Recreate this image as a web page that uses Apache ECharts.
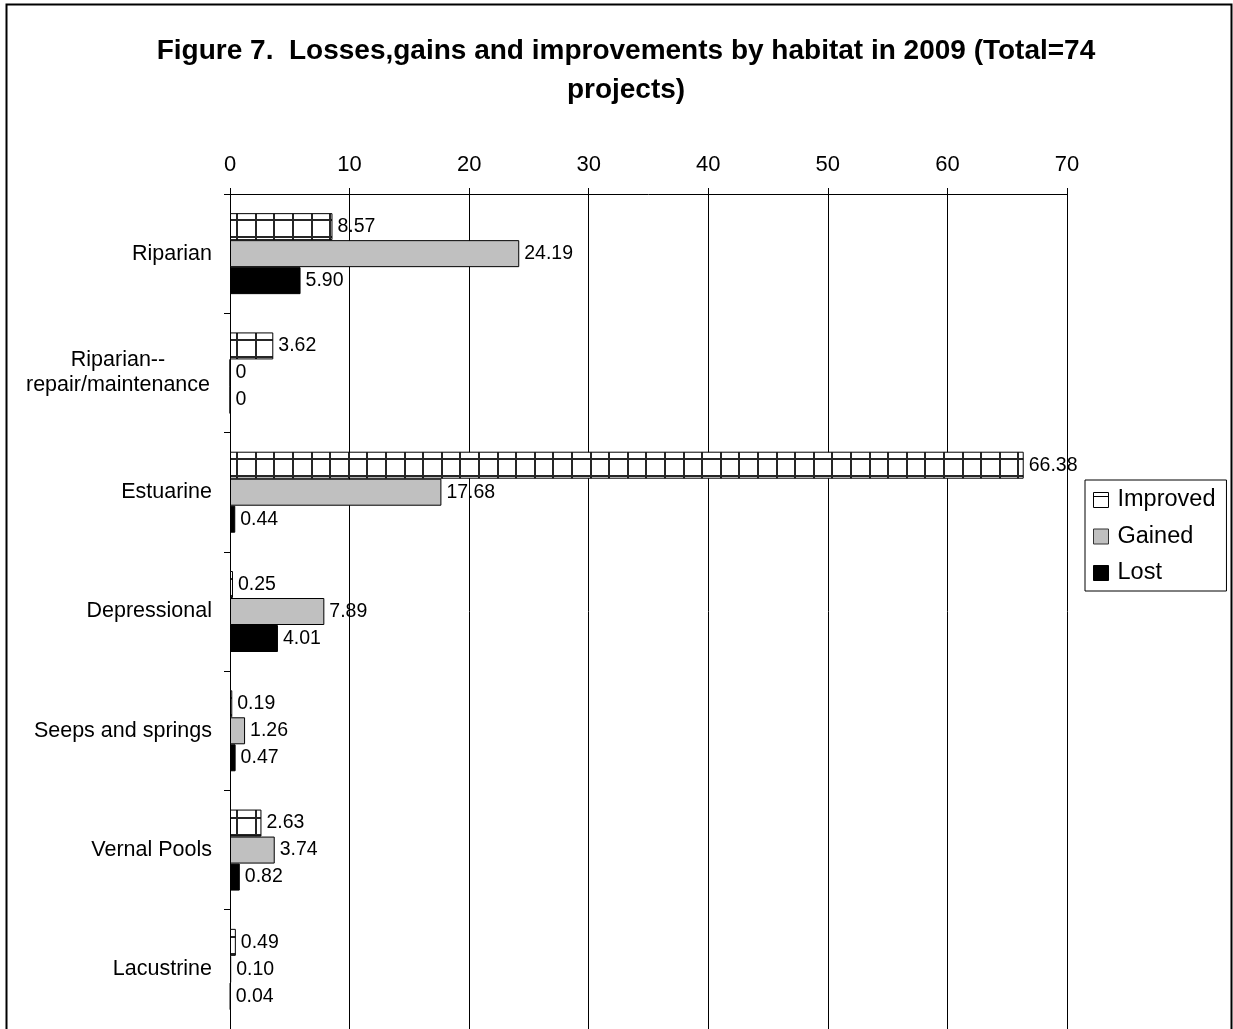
<!DOCTYPE html>
<html>
<head>
<meta charset="utf-8">
<script src="https://cdn.jsdelivr.net/npm/echarts@6/dist/echarts.min.js"></script>
<style>
html,body{margin:0;padding:0;background:#fff;}
#chart{width:1233px;height:1029px;}
</style>
</head>
<body>
<div id="chart"></div>
<script>
const categories = ['Riparian', 'Riparian--\nrepair/maintenance', 'Estuarine', 'Depressional', 'Seeps and springs', 'Vernal Pools', 'Lacustrine'];
const improved = [8.57, 3.62, 66.38, 0.25, 0.19, 2.63, 0.49];
const gained = [24.19, 0, 17.68, 7.89, 1.26, 3.74, 0.10];
const lost = [5.90, 0, 0.44, 4.01, 0.47, 0.82, 0.04];
const xTicks = [0, 10, 20, 30, 40, 50, 60, 70];
const seriesNames = ['Improved', 'Gained', 'Lost'];

const FONT = '"Liberation Sans", Arial, sans-serif';

// grid pattern for "Improved"
const pc = document.createElement('canvas');
pc.width = 93; pc.height = 239;
const g = pc.getContext('2d');
g.fillStyle = '#ffffff';
g.fillRect(0, 0, 93, 239);
g.fillStyle = '#262626';
[13, 32, 50, 69, 87].forEach(function (x) { g.fillRect(x, 0, 2, 239); });
[100, 117, 219, 236].forEach(function (y) { g.fillRect(0, y, 93, 2); });

const chart = echarts.init(document.getElementById('chart'), null, {renderer: 'canvas'});

function lbl(v) {
  const n = v.value;
  return n === 0 ? '0' : n.toFixed(2);
}
const labelCfg = {
  show: true, position: 'right', distance: 5,
  color: '#000', fontSize: 19.5, fontFamily: FONT, formatter: lbl
};

chart.setOption({
  animation: false,
  backgroundColor: '#ffffff',
  title: {
    text: 'Figure 7.  Losses,gains and improvements by habitat in 2009 (Total=74\nprojects)',
    left: 621,
    top: 27,
    textAlign: 'center',
    textStyle: {fontSize: 28, fontWeight: 'bold', fontFamily: FONT, color: '#000', lineHeight: 39, align: 'center'}
  },
  legend: {
    orient: 'vertical',
    left: 1085, top: 480,
    padding: [8, 11, 6, 8],
    borderColor: '#000', borderWidth: 1,
    itemWidth: 15, itemHeight: 15, itemGap: 12.5,
    textStyle: {fontSize: 23.5, fontFamily: FONT, color: '#000', padding: [0, 0, 0, 4]},
    data: [
      {name: seriesNames[0], icon: 'path://M0,0H15V15H0Z M0,4H15', itemStyle: {color: '#ffffff', borderColor: '#000', borderWidth: 1}},
      {name: seriesNames[1], icon: 'rect', itemStyle: {color: '#c0c0c0', borderColor: '#333', borderWidth: 1}},
      {name: seriesNames[2], icon: 'rect', itemStyle: {color: '#000000', borderColor: '#000', borderWidth: 1}}
    ]
  },
  grid: {left: 230, top: 194, width: 837, height: 837, containLabel: false},
  xAxis: {
    type: 'value', position: 'top', min: 0, max: 70, interval: 10,
    axisLine: {show: true, lineStyle: {color: '#000', width: 1}},
    axisTick: {show: true, length: 6, lineStyle: {color: '#000'}},
    axisLabel: {fontSize: 22, fontFamily: FONT, color: '#000', margin: 18,
      formatter: function (v) { return xTicks.indexOf(v) >= 0 ? String(v) : ''; }},
    splitLine: {show: true, lineStyle: {color: '#000', width: 1}}
  },
  yAxis: {
    type: 'category', inverse: true, data: categories,
    axisLine: {show: true, lineStyle: {color: '#000', width: 1}},
    axisTick: {show: true, length: 6, lineStyle: {color: '#000'}},
    axisLabel: {
      fontSize: 21.5, fontFamily: FONT, color: '#000', margin: 18,
      formatter: function (v) {
        if (v.indexOf('\n') >= 0) {
          return v.split('\n').map(function (s) { return '{c|' + s + '}'; }).join('\n');
        }
        return v;
      },
      rich: {c: {width: 188, align: 'center', fontSize: 21.5, fontFamily: FONT, color: '#000', lineHeight: 25}}
    }
  },
  series: [
    {name: seriesNames[0], type: 'bar', data: improved, barWidth: 27, barGap: '0%',
      itemStyle: {color: {image: pc, repeat: 'repeat'}, borderColor: '#000', borderWidth: 1},
      label: labelCfg},
    {name: seriesNames[1], type: 'bar', data: gained, barWidth: 27, barGap: '0%',
      itemStyle: {color: '#c0c0c0', borderColor: '#000', borderWidth: 1},
      label: labelCfg},
    {name: seriesNames[2], type: 'bar', data: lost, barWidth: 27, barGap: '0%',
      itemStyle: {color: '#000000', borderColor: '#000', borderWidth: 1},
      label: labelCfg}
  ],
  graphic: [{
    type: 'rect', left: 4, top: 2, silent: true, z: 100,
    shape: {x: 0, y: 0, width: 1225, height: 1060},
    style: {fill: 'none', stroke: '#000', lineWidth: 2}
  }]
});
</script>
</body>
</html>
